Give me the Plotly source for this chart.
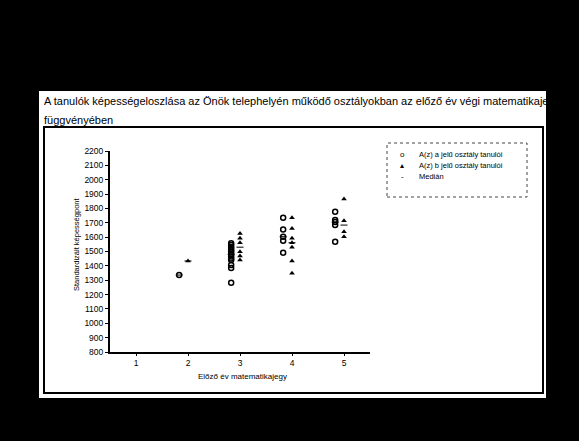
import plotly.graph_objects as go

# ---- data ----
grades = [1, 2, 3, 4, 5]
tick_labels = ["1", "2", "3", "4", "5"]
y_ticks = list(range(800, 2201, 100))

class_a = {
    2: [1336],
    3: [1557, 1545, 1532, 1520, 1507, 1494, 1480, 1466, 1452, 1440, 1406, 1385, 1283],
    4: [1735, 1654, 1603, 1575, 1492],
    5: [1777, 1719, 1705, 1684, 1568],
}
class_b = {
    2: [1434],
    3: [1626, 1592, 1561, 1498, 1469, 1441],
    4: [1735, 1661, 1592, 1561, 1529, 1434, 1348],
    5: [1865, 1714, 1638, 1603],
}
median_a = {2: 1336, 3: 1480, 4: 1603, 5: 1705}
median_b = {2: 1434, 3: 1530, 4: 1561, 5: 1684}

title_line1 = "A tanulók képességeloszlása az Önök telephelyén működő osztályokban az előző év végi matematikajegy"
title_line2 = "függvényében"
y_title = "Standardizált képességpont"
x_title = "Előző év matematikajegy"
legend_labels = ["A(z) a jelű osztály tanulói", "A(z) b jelű osztály tanulói", "Medián"]

# ---- layout constants (pixels) ----
W, H = 579, 441
PL, PR, PT, PB = 110, 370, 151, 352
off_a, off_b = -0.17, 0.0
FONT = "Liberation Sans, Arial, sans-serif"


def px(x):
    return (x - PL) / (PR - PL)


def py(y):
    return (PB - y) / (PB - PT)


def flat(d, off):
    xs, ys = [], []
    for g, vals in d.items():
        for v in vals:
            xs.append(g + off)
            ys.append(v)
    return xs, ys


fig = go.Figure()
xa, ya = flat(class_a, off_a)
xb, yb = flat(class_b, off_b)
fig.add_trace(go.Scatter(x=xa, y=ya, mode="markers", name=legend_labels[0],
                         marker=dict(symbol="circle-open", size=5, color="black",
                                     line=dict(width=1.5, color="black"))))
fig.add_trace(go.Scatter(x=xb, y=yb, mode="markers", name=legend_labels[1],
                         marker=dict(symbol="triangle-up", size=5, color="black")))
mx = [g + off_a for g in median_a] + [g + off_b for g in median_b]
my = list(median_a.values()) + list(median_b.values())
fig.add_trace(go.Scatter(x=mx, y=my, mode="markers", name=legend_labels[2],
                         marker=dict(symbol="line-ew", size=5, color="black",
                                     line=dict(width=1, color="black"))))

shapes = [
    dict(type="rect", xref="paper", yref="paper", x0=px(39), x1=px(546), y0=py(398), y1=py(91),
         fillcolor="white", line=dict(width=0), layer="below"),
    dict(type="rect", xref="paper", yref="paper", x0=px(44), x1=px(543), y0=py(393), y1=py(127),
         fillcolor="rgba(0,0,0,0)", line=dict(width=2, color="black"), layer="below"),
    dict(type="rect", xref="paper", yref="paper", x0=px(387), x1=px(527), y0=py(197), y1=py(143),
         fillcolor="rgba(0,0,0,0)", line=dict(width=1, color="#444", dash="dot"), layer="below"),
]

annotations = [
    dict(text=title_line1, xref="paper", yref="paper", x=px(42), y=py(101), xanchor="left",
         yanchor="middle", showarrow=False, font=dict(family=FONT, size=11, color="black")),
    dict(text=title_line2, xref="paper", yref="paper", x=px(42), y=py(120), xanchor="left",
         yanchor="middle", showarrow=False, font=dict(family=FONT, size=11, color="black")),
    dict(text=y_title, xref="paper", yref="paper", x=px(76), y=py(245), textangle=-90,
         xanchor="center", yanchor="middle", showarrow=False,
         font=dict(family=FONT, size=7.5, color="black")),
    dict(text=x_title, xref="paper", yref="paper", x=px(242), y=py(376), xanchor="center",
         yanchor="middle", showarrow=False, font=dict(family=FONT, size=8, color="black")),
]
legend_syms = ["o", "▴", "-"]
legend_rows = [154, 165, 176]
for sym, lab, ry in zip(legend_syms, legend_labels, legend_rows):
    annotations.append(dict(text=sym, xref="paper", yref="paper", x=px(402), y=py(ry),
                            xanchor="center", yanchor="middle", showarrow=False,
                            font=dict(family=FONT, size=8, color="black")))
    annotations.append(dict(text=lab, xref="paper", yref="paper", x=px(417), y=py(ry),
                            xanchor="left", yanchor="middle", showarrow=False,
                            font=dict(family=FONT, size=7.5, color="black")))

fig.update_layout(
    width=W, height=H,
    margin=dict(l=PL, r=W - PR, t=PT, b=H - PB, pad=0),
    paper_bgcolor="black", plot_bgcolor="white",
    showlegend=False,
    shapes=shapes, annotations=annotations,
    xaxis=dict(range=[0.5, 5.5], tickvals=grades, ticktext=tick_labels, showgrid=False,
               zeroline=False, showline=True, linecolor="black", linewidth=1.5,
               ticks="outside", ticklen=2, tickcolor="black",
               tickfont=dict(family=FONT, size=8.5, color="black")),
    yaxis=dict(range=[800, 2200], tickvals=y_ticks, showgrid=False, zeroline=False,
               showline=True, linecolor="black", linewidth=2, ticks="outside", ticklen=3,
               tickcolor="black", tickfont=dict(family=FONT, size=8.5, color="black")),
)

fig.write_html(
    "out.html",
    config={"displayModeBar": False},
    post_script="document.body.style.margin='0';document.body.style.background='black';",
)
